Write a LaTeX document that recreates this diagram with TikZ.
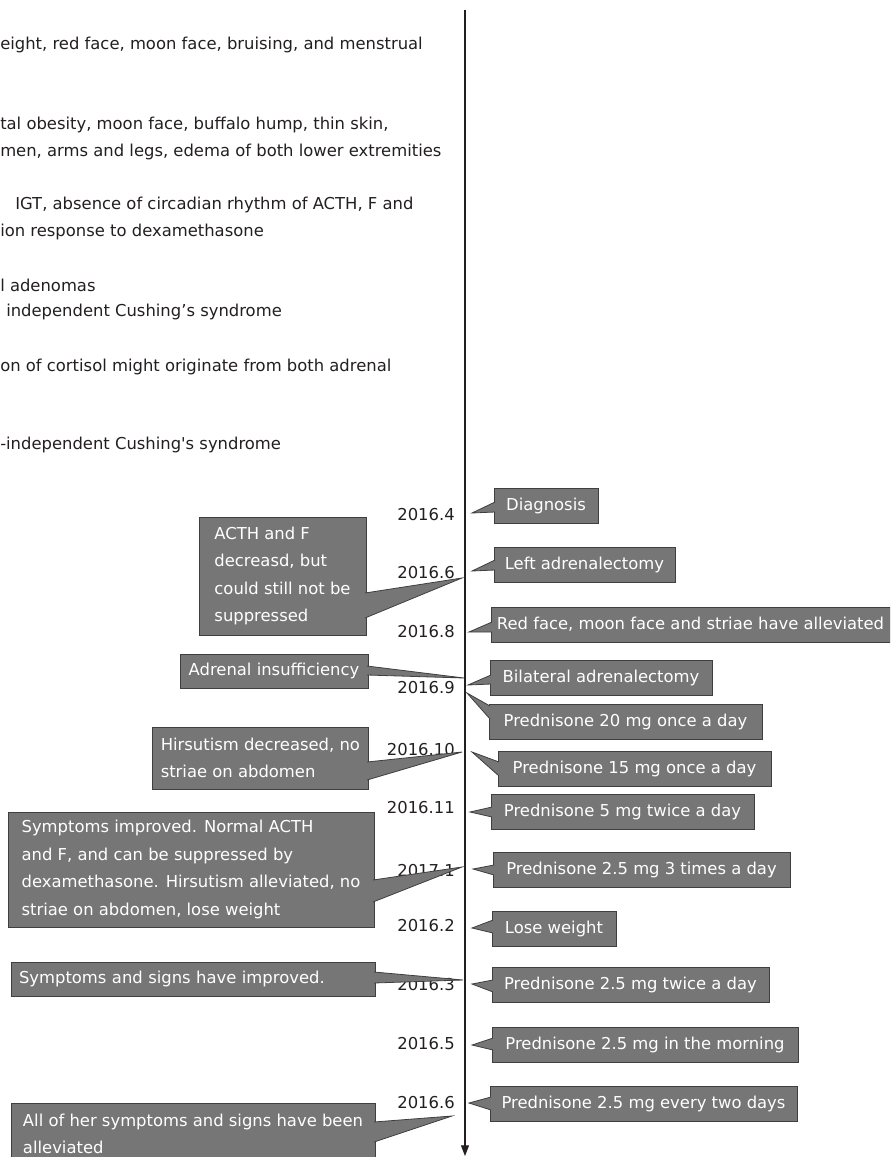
\documentclass[tikz,border=0pt]{standalone}
\usepackage{fontspec}
\setmainfont{DejaVu Sans}
\usetikzlibrary{arrows.meta,calc}
\definecolor{BoxGray}{HTML}{767676}
\definecolor{BoxEdge}{HTML}{3F3F3F}
\definecolor{InkDark}{HTML}{231F20}

\begin{document}
\begin{tikzpicture}[
    x=0.75pt, y=-0.75pt,
    font=\fontsize{12.3}{20.6}\selectfont,
    evbox/.style={draw=BoxEdge,fill=BoxGray,text=white,line width=0.6pt,
                  inner xsep=6pt,outer sep=0pt,align=left,minimum height=26.25pt},
    ptr/.style={fill=BoxGray,draw=BoxEdge,line width=0.6pt},
    datelbl/.style={anchor=east,inner sep=0pt,text=InkDark},
    histtext/.style={anchor=west,inner sep=0pt,text=InkDark},
    >={Triangle[length=8pt,width=6pt]}
  ]
  \useasboundingbox (0,0) rectangle (890,1157);
  \clip (0,0) rectangle (890,1157);

  % history text (cut at the left edge)
  \node[histtext] (h1) at (0,45)  {eight, red face, moon face, bruising, and menstrual};
  \node[histtext] (h2) at (0,125) {tal obesity, moon face, buffalo hump, thin skin,};
  \node[histtext] (h3) at (0,152) {men, arms and legs, edema of both lower extremities};
  \node[histtext] (h4) at (15,205) {IGT, absence of circadian rhythm of ACTH, F and};
  \node[histtext] (h5) at (0,232) {ion response to dexamethasone};
  \node[histtext] (h6) at (0,285) {l adenomas};
  \node[histtext] (h7) at (6,312) {independent Cushing’s syndrome};
  \node[histtext] (h8) at (0,367) {on of cortisol might originate from both adrenal};
  \node[histtext] (h9) at (0,445) {-independent Cushing\textquotesingle s syndrome};

  % time axis
  \coordinate (axtop) at (465,10);
  \coordinate (axend) at (465,1156);
  \draw[->,InkDark,line width=0.8pt] (axtop) -- (axend);

  % dates
  \node[datelbl] (d1)  at (455,515)  {2016.4};
  \node[datelbl] (d2)  at (455,573)  {2016.6};
  \node[datelbl] (d3)  at (455,632)  {2016.8};
  \node[datelbl] (d4)  at (455,688)  {2016.9};
  \node[datelbl] (d5)  at (455,750)  {2016.10};
  \node[datelbl] (d6)  at (455,808)  {2016.11};
  \node[datelbl] (d7)  at (455,871)  {2017.1};
  \node[datelbl] (d8)  at (455,926)  {2016.2};
  \node[datelbl] (d9)  at (455,985)  {2016.3};
  \node[datelbl] (d10) at (455,1044) {2016.5};
  \node[datelbl] (d11) at (455,1103) {2016.6};

  % treatment (right)
  \node[evbox,anchor=north west,minimum width=78pt]     (diag)        at (494,488)  {Diagnosis};
  \node[evbox,anchor=north west,minimum width=135.75pt] (leftadx)     at (494,547)  {Left adrenalectomy};
  \node[evbox,anchor=north west,minimum width=299.25pt,inner xsep=4pt] (redface) at (491,607) {Red face, moon face and striae have alleviated};
  \node[evbox,anchor=north west,minimum width=166.5pt]  (bilat)       at (490,660)  {Bilateral adrenalectomy};
  \node[evbox,anchor=north west,minimum width=204.75pt] (pred20)      at (489,704)  {Prednisone 20 mg once a day};
  \node[evbox,anchor=north west,minimum width=204.75pt] (pred15)      at (498,751)  {Prednisone 15 mg once a day};
  \node[evbox,anchor=north west,minimum width=197.25pt] (pred5)       at (491,794)  {Prednisone 5 mg twice a day};
  \node[evbox,anchor=north west,minimum width=222.75pt] (predthree)   at (493,852)  {Prednisone 2.5 mg 3 times a day};
  \node[evbox,anchor=north west,minimum width=93pt]     (loseweight)  at (492,911)  {Lose weight};
  \node[evbox,anchor=north west,minimum width=207.75pt] (predtwice)   at (492,967)  {Prednisone 2.5 mg twice a day};
  \node[evbox,anchor=north west,minimum width=229.5pt]  (predmorning) at (492,1027) {Prednisone 2.5 mg in the morning};
  \node[evbox,anchor=north west,minimum width=230.25pt] (predtwoday)  at (490,1086) {Prednisone 2.5 mg every two days};

  % findings (left)
  \node[evbox,anchor=north east,minimum width=125.25pt,minimum height=88.5pt] (acth) at (366,517)
    {ACTH and F\\decreasd, but\\could still not be\\suppressed};
  \node[evbox,anchor=north east,minimum width=141pt,minimum height=25.5pt] (insuff) at (368,654)
    {Adrenal insufficiency};
  \node[evbox,anchor=north east,minimum width=161.25pt,minimum height=46.5pt] (hirsut) at (368,727)
    {Hirsutism decreased, no\\striae on abdomen};
  \node[evbox,anchor=north east,minimum width=274.5pt,minimum height=86.25pt] (improved) at (374,812)
    {Symptoms improved. Normal ACTH\\and F, and can be suppressed by\\dexamethasone. Hirsutism alleviated, no\\striae on abdomen, lose weight};
  \node[evbox,anchor=north east,text width=261pt,minimum height=25.5pt] (signs) at (375,962)
    {Symptoms and signs have improved.};
  \node[evbox,anchor=north east,minimum width=273pt,minimum height=46.5pt] (allsigns) at (375,1103)
    {All of her symptoms and signs have been\\alleviated};

  % pointers
  \coordinate (tdiag) at (472,513);
  \coordinate (tleftadx) at (472,571);
  \coordinate (tredface) at (469,632);
  \coordinate (tbilat) at (468,685);
  \coordinate (tpred20) at (467,693);
  \coordinate (tpred15) at (472,752);
  \coordinate (tpred5) at (470,812);
  \coordinate (tpredthree) at (473,869);
  \coordinate (tloseweight) at (472,928);
  \coordinate (tpredtwice) at (472,984);
  \coordinate (tpredmorning) at (472,1045);
  \coordinate (tpredtwoday) at (469,1103);
  \filldraw[ptr] ($(diag.north west)+(1,14)$) -- (tdiag) -- ($(diag.north west)+(1,24)$);
  \filldraw[ptr] ($(leftadx.north west)+(1,13)$) -- (tleftadx) -- ($(leftadx.north west)+(1,23)$);
  \filldraw[ptr] ($(redface.north west)+(1,15)$) -- (tredface) -- ($(redface.north west)+(1,25)$);
  \filldraw[ptr] ($(bilat.north west)+(1,15)$) -- (tbilat) -- ($(bilat.north west)+(1,24)$);
  \filldraw[ptr] ($(pred20.north west)+(1,2)$) -- (tpred20) -- ($(pred20.north west)+(1,15)$);
  \filldraw[ptr] ($(pred15.north west)+(1,11)$) -- (tpred15) -- ($(pred15.north west)+(1,25)$);
  \filldraw[ptr] ($(pred5.north west)+(1,13)$) -- (tpred5) -- ($(pred5.north west)+(1,23)$);
  \filldraw[ptr] ($(predthree.north west)+(1,13)$) -- (tpredthree) -- ($(predthree.north west)+(1,23)$);
  \filldraw[ptr] ($(loseweight.north west)+(1,9)$) -- (tloseweight) -- ($(loseweight.north west)+(1,22)$);
  \filldraw[ptr] ($(predtwice.north west)+(1,13)$) -- (tpredtwice) -- ($(predtwice.north west)+(1,25)$);
  \filldraw[ptr] ($(predmorning.north west)+(1,11)$) -- (tpredmorning) -- ($(predmorning.north west)+(1,23)$);
  \filldraw[ptr] ($(predtwoday.north west)+(1,11)$) -- (tpredtwoday) -- ($(predtwoday.north west)+(1,24)$);

  \coordinate (tacth) at (462,578);
  \coordinate (tinsuff) at (464,678);
  \coordinate (thirsut) at (462,752);
  \coordinate (timproved) at (462,867);
  \coordinate (tsigns) at (463,980);
  \coordinate (tallsigns) at (452,1116);
  \filldraw[ptr] ($(acth.north east)+(-1,76)$) -- (tacth) -- ($(acth.north east)+(-1,101)$);
  \filldraw[ptr] ($(insuff.north east)+(-1,12)$) -- (tinsuff) -- ($(insuff.north east)+(-1,21)$);
  \filldraw[ptr] ($(hirsut.north east)+(-1,35)$) -- (thirsut) -- ($(hirsut.north east)+(-1,53)$);
  \filldraw[ptr] ($(improved.north east)+(-1,68)$) -- (timproved) -- ($(improved.north east)+(-1,90)$);
  \filldraw[ptr] ($(signs.north east)+(-1,10)$) -- (tsigns) -- ($(signs.north east)+(-1,21)$);
  \filldraw[ptr] ($(allsigns.north east)+(-1,19)$) -- (tallsigns) -- ($(allsigns.north east)+(-1,39)$);
\end{tikzpicture}
\end{document}
